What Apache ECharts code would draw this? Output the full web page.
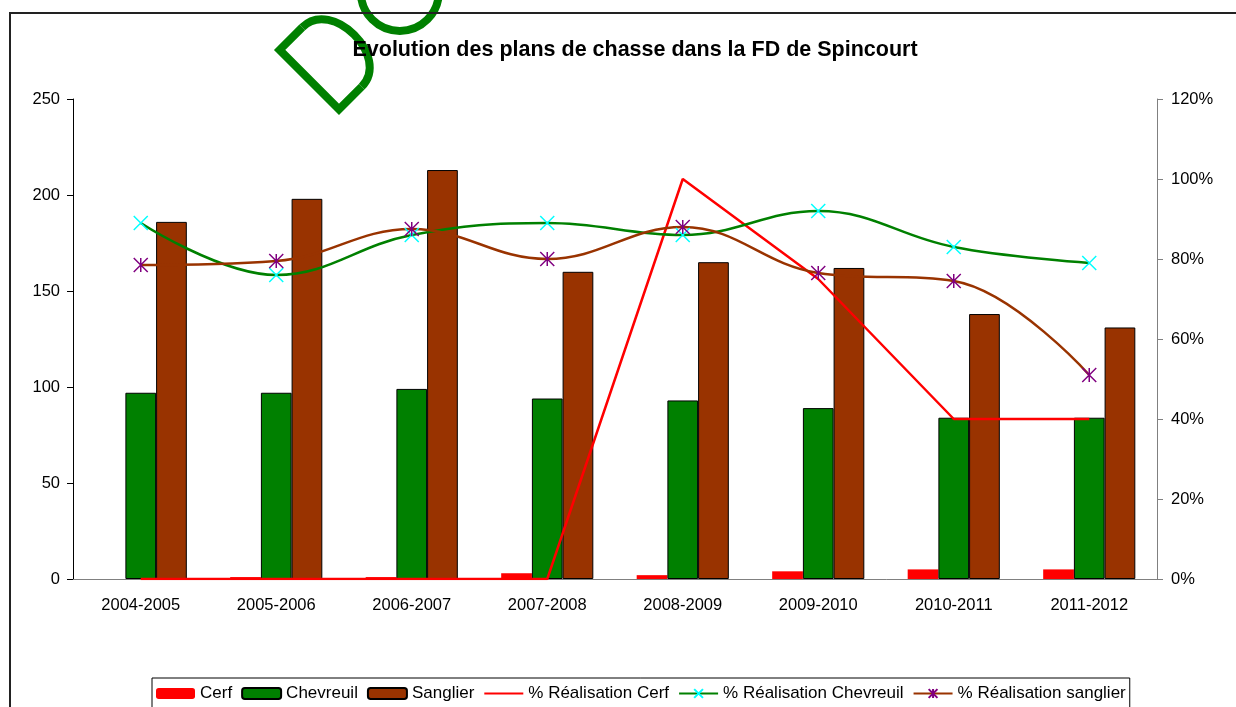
<!DOCTYPE html>
<html>
<head>
<meta charset="utf-8">
<script src="https://cdn.jsdelivr.net/npm/echarts@6/dist/echarts.min.js"></script>
<style>
  html, body { margin: 0; padding: 0; background: #fff; }
  #chart { width: 1236px; height: 707px; }
</style>
</head>
<body>
<div id="chart"></div>
<script>
// saisons de chasse
const saisons = ['2004-2005', '2005-2006', '2006-2007', '2007-2008', '2008-2009', '2009-2010', '2010-2011', '2011-2012']

// plans de chasse (nombre d'animaux)
const cerf = [0, 1, 1, 3, 2, 4, 5, 5]
const chevreuil = [97, 97, 99, 94, 93, 89, 84, 84]
const sanglier = [186, 198, 213, 160, 165, 162, 138, 131]

// taux de réalisation (%)
const realCerf = [0, 0, 0, 0, 100, 75, 40, 40]
const realChevreuil = [89, 76, 86, 89, 86, 92, 83, 79]
const realSanglier = [78.5, 79.5, 87.5, 80, 88, 76.5, 74.5, 51]

const fontFam = 'Liberation Sans, Arial, sans-serif'
const txt = { color: '#000', fontSize: 16.5, fontFamily: fontFam }
const vert = '#008000'

const chart = echarts.init(document.getElementById('chart'))

chart.setOption({
  animation: false,
  backgroundColor: '#fff',
  title: {
    text: 'Evolution des plans de chasse dans la FD de Spincourt',
    left: 630,
    top: 34,
    textAlign: 'center',
    textStyle: { color: '#000', fontSize: 21.5, fontWeight: 'bold', fontFamily: fontFam }
  },
  legend: {
    left: 152,
    top: 678,
    padding: [7, 4, 7, 4],
    itemGap: 9,
    itemWidth: 39,
    itemHeight: 11,
    borderColor: '#000',
    borderWidth: 1,
    textStyle: Object.assign({}, txt, { fontSize: 17 }),
    data: ['Cerf', 'Chevreuil', 'Sanglier', '% Réalisation Cerf', '% Réalisation Chevreuil', '% Réalisation sanglier']
  },
  grid: { left: 73, right: 79, top: 99, bottom: 128 },
  xAxis: {
    type: 'category',
    data: saisons,
    axisLine: { lineStyle: { color: '#808080', width: 1 } },
    axisTick: { length: 6, lineStyle: { color: '#808080' } },
    axisLabel: Object.assign({ margin: 18 }, txt)
  },
  yAxis: [
    {
      type: 'value',
      min: 0,
      max: 250,
      interval: 50,
      axisLine: { show: true, lineStyle: { color: '#000', width: 1 } },
      axisTick: { show: true, length: 6, lineStyle: { color: '#000' } },
      axisLabel: Object.assign({ margin: 13 }, txt),
      splitLine: { show: false }
    },
    {
      type: 'value',
      min: 0,
      max: 120,
      interval: 20,
      position: 'right',
      axisLine: { show: true, lineStyle: { color: '#808080', width: 1 } },
      axisTick: { show: true, length: 6, lineStyle: { color: '#808080' } },
      axisLabel: Object.assign({ margin: 14, formatter: '{value}%' }, txt),
      splitLine: { show: false }
    }
  ],
  graphic: [
    {
      type: 'rect',
      silent: true,
      z: 100,
      shape: { x: 10, y: 13, width: 1300, height: 800 },
      style: { fill: 'none', stroke: '#222', lineWidth: 2 }
    },
    {
      // filigrane "DO" en vert, incliné
      type: 'group',
      silent: true,
      z: 101,
      x: 339,
      y: 115,
      rotation: Math.PI / 4,
      children: [
        {
          type: 'polyline',
          shape: { points: [[36, -4], [4, -4], [4, -88], [36, -88]] },
          style: { fill: 'none', stroke: vert, lineWidth: 8, lineJoin: 'miter' }
        },
        {
          type: 'bezierCurve',
          shape: { x1: 36, y1: -88, cpx1: 78, cpy1: -88, cpx2: 78, cpy2: -4, x2: 36, y2: -4 },
          style: { fill: 'none', stroke: vert, lineWidth: 8 }
        },
        {
          type: 'circle',
          shape: { cx: 130, cy: -44, r: 39 },
          style: { fill: 'none', stroke: vert, lineWidth: 8 }
        }
      ]
    }
  ],
  series: [
    {
      name: 'Cerf',
      type: 'bar',
      data: cerf,
      barGap: '0%',
      barCategoryGap: '32%',
      itemStyle: { color: '#FF0000' }
    },
    {
      name: 'Chevreuil',
      type: 'bar',
      data: chevreuil,
      itemStyle: { color: vert, borderColor: '#000', borderWidth: 1 }
    },
    {
      name: 'Sanglier',
      type: 'bar',
      data: sanglier,
      itemStyle: { color: '#993300', borderColor: '#000', borderWidth: 1 }
    },
    {
      name: '% Réalisation Cerf',
      type: 'line',
      yAxisIndex: 1,
      data: realCerf,
      symbol: 'none',
      itemStyle: { color: '#FF0000', opacity: 0 },
      lineStyle: { color: '#FF0000', width: 2.5, opacity: 1 },
      z: 5
    },
    {
      name: '% Réalisation Chevreuil',
      type: 'line',
      yAxisIndex: 1,
      data: realChevreuil,
      smooth: 0.4,
      symbol: 'path://M0,0L10,10M10,0L0,10',
      symbolSize: 14,
      itemStyle: { color: '#00FFFF', borderColor: '#00FFFF', borderWidth: 1.5 },
      lineStyle: { color: vert, width: 2.5 },
      z: 5
    },
    {
      name: '% Réalisation sanglier',
      type: 'line',
      yAxisIndex: 1,
      data: realSanglier,
      smooth: 0.4,
      symbol: 'path://M0,0L10,10M10,0L0,10M5,0L5,10',
      symbolSize: 14,
      itemStyle: { color: '#800080', borderColor: '#800080', borderWidth: 1.5 },
      lineStyle: { color: '#993300', width: 2.5 },
      z: 5
    }
  ]
})
</script>
</body>
</html>
